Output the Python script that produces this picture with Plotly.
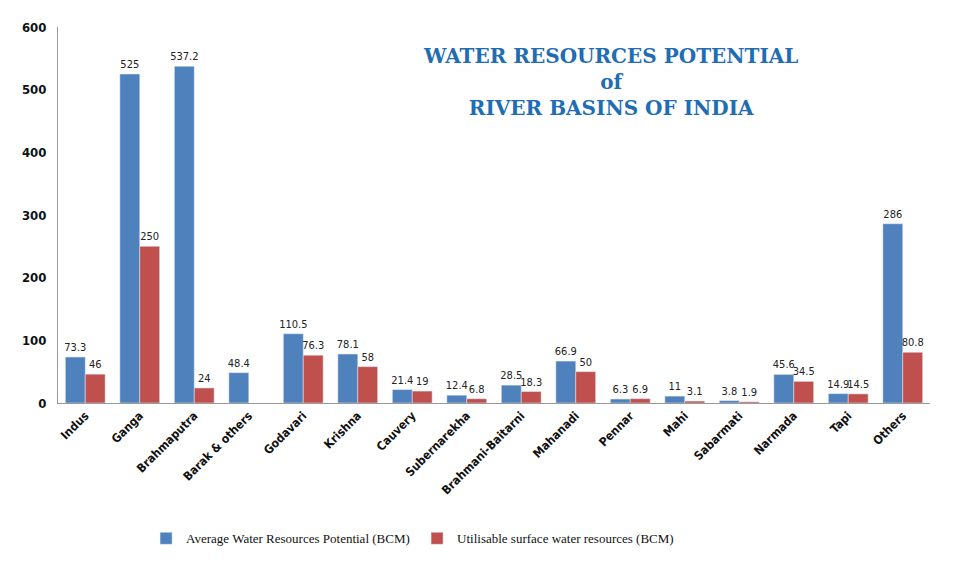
import plotly.graph_objects as go

basins = ["Indus", "Ganga", "Brahmaputra", "Barak & others", "Godavari", "Krishna",
          "Cauvery", "Subernarekha", "Brahmani-Baitarni", "Mahanadi", "Pennar",
          "Mahi", "Sabarmati", "Narmada", "Tapi", "Others"]
avg_potential = [73.3, 525, 537.2, 48.4, 110.5, 78.1, 21.4, 12.4, 28.5, 66.9,
                 6.3, 11, 3.8, 45.6, 14.9, 286]
utilisable = [46, 250, 24, None, 76.3, 58, 19, 6.8, 18.3, 50,
              6.9, 3.1, 1.9, 34.5, 14.5, 80.8]
y_ticks = [0, 100, 200, 300, 400, 500, 600]

label_font = dict(family="DejaVu Sans Condensed", size=11, color="#222222")

fig = go.Figure()
fig.add_trace(go.Bar(
    x=basins, y=avg_potential, name="Average Water Resources Potential (BCM)",
    marker_color="#4F81BD", text=[("%g" % v) for v in avg_potential],
    textposition="outside", textfont=label_font, cliponaxis=False,
    constraintext="none",
))
fig.add_trace(go.Bar(
    x=basins, y=utilisable, name="Utilisable surface water resources (BCM)",
    marker_color="#C0504D",
    text=[("%g" % v) if v is not None else "" for v in utilisable],
    textposition="outside", textfont=label_font, cliponaxis=False,
    constraintext="none",
))

fig.update_layout(
    width=960, height=576,
    paper_bgcolor="white", plot_bgcolor="white",
    margin=dict(l=58, r=30, t=27, b=173, autoexpand=False),
    barmode="group", bargap=0.27, bargroupgap=0,
    xaxis=dict(
        showline=True, linecolor="#999999", linewidth=1, automargin=False,
        tickangle=-45, ticks="", showgrid=False,
        tickfont=dict(family="DejaVu Sans Condensed", size=12, color="#111111", weight="bold"),
    ),
    yaxis=dict(
        range=[0, 600], tickvals=y_ticks, showgrid=False, zeroline=False,
        showline=True, linecolor="#999999", linewidth=1, automargin=False,
        ticks="outside", ticklen=8, tickcolor="white",
        tickfont=dict(family="DejaVu Sans Condensed", size=13, color="#111111", weight="bold"),
    ),
    legend=dict(
        orientation="h", x=0.101, xanchor="left", y=-0.36, yanchor="middle",
        font=dict(family="Liberation Serif, Times New Roman", size=13, color="#111111"),
        entrywidth=226, entrywidthmode="pixels",
    ),
    showlegend=True,
)

fig.add_annotation(
    xref="paper", yref="paper", x=0.634, y=0.961, xanchor="center", yanchor="top",
    text="WATER RESOURCES POTENTIAL<br>of<br>RIVER BASINS OF INDIA",
    showarrow=False, align="center",
    font=dict(family="DejaVu Serif", size=20, color="#1F6DB3", weight="bold"),
)

fig.write_html("out.html", config={"displayModeBar": False},
               post_script="document.body.style.margin='0';")
